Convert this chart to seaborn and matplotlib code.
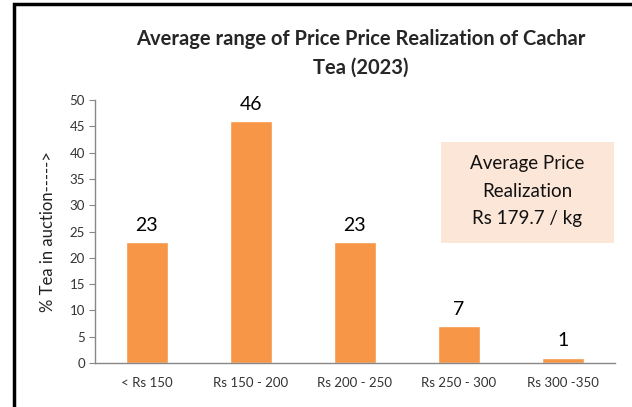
import matplotlib
matplotlib.use("Agg")
import matplotlib.pyplot as plt
import seaborn as sns
from matplotlib.patches import Rectangle

# chart data
price_ranges = ["< Rs 150", "Rs 150 - 200", "Rs 200 - 250", "Rs 250 - 300", "Rs 300 -350"]
pct_tea = [23, 46, 23, 7, 1]
y_ticks = list(range(0, 51, 5))

BAR_COLOR = "#F79646"
BOX_COLOR = "#FCE6D8"

sns.set_style("white")
plt.rcParams["font.family"] = ["Lato", "DejaVu Sans"]

fig = plt.figure(figsize=(6.32, 4.07), dpi=100)
ax = fig.add_axes([0.150, 0.108, 0.823, 0.646])

sns.barplot(x=price_ranges, y=pct_tea, color=BAR_COLOR, saturation=1,
            width=0.4, ax=ax)
ax.bar_label(ax.containers[0], fmt="%d", padding=6, fontsize=14, color="black")

ax.set_ylim(0, 50)
ax.set_xlim(-0.5, len(price_ranges) - 0.5)
ax.set_yticks(y_ticks)
ax.tick_params(axis="y", length=4, color="#888888", labelsize=9.5, labelcolor="#333333",
               direction="out", left=True, pad=3)
ax.tick_params(axis="x", length=0, labelsize=9.5, labelcolor="#333333", pad=10)
for side in ["top", "right"]:
    ax.spines[side].set_visible(False)
for side in ["left", "bottom"]:
    ax.spines[side].set_color("#888888")
    ax.spines[side].set_linewidth(1)
ax.set_xlabel("")
ax.set_ylabel("% Tea in auction----->", fontsize=12, color="#222222", labelpad=10)

# title
fig.text(361 / 632, 1 - 53 / 407, "Average range of Price Price Realization of Cachar\nTea (2023)",
         ha="center", va="center", fontsize=14.5, fontweight="bold", linespacing=1.55)

# annotation box
fig.patches.append(Rectangle((441 / 632, 1 - 243 / 407), 173 / 632, 101 / 407,
                             transform=fig.transFigure, facecolor=BOX_COLOR,
                             edgecolor="none", zorder=0))
fig.text(527 / 632, 1 - 191 / 407, "Average Price\nRealization\nRs 179.7 / kg",
         ha="center", va="center", fontsize=13.5, linespacing=1.75, color="#111111")

# outer frame (top and left visible)
fig.patches.append(Rectangle((14 / 632, -0.05), 1.1, 1 - 4 / 407 + 0.05,
                             transform=fig.transFigure, facecolor="none",
                             edgecolor="black", linewidth=2.5, zorder=5))

fig.savefig("out.png", dpi=100)
